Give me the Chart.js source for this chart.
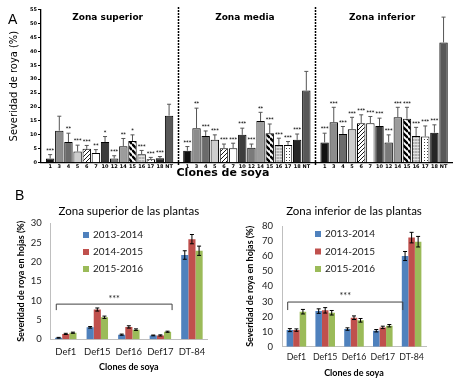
<!DOCTYPE html>
<html><head><meta charset="utf-8">
<script src="https://cdn.jsdelivr.net/npm/chart.js@4/dist/chart.umd.min.js"></script>
<style>
html,body{margin:0;padding:0;background:#fff;}
#wrap{position:relative;width:458px;height:380px;overflow:hidden;background:#fff;}
canvas{position:absolute;}
.lbl{position:absolute;font-family:"Liberation Sans",Arial,sans-serif;font-size:14px;line-height:14px;color:#000;}
</style></head><body>
<div id="wrap">
<canvas id="cA" width="458" height="185" style="left:0;top:0"></canvas>
<canvas id="cB1" width="228" height="180" style="left:0;top:200px"></canvas>
<canvas id="cB2" width="230" height="180" style="left:228px;top:200px"></canvas>
<div class="lbl" style="left:8px;top:12px">A</div>
<div class="lbl" style="left:15px;top:188px">B</div>
</div>
<script>
// ---------- Panel A data ----------
const clones = ['1','3','4','5','6','7','10','12','14','15','16','17','18','NT'];
const zones = ['Zona superior','Zona media','Zona inferior'];
const yTicksA = [0,5,10,15,20,25,30,35,40,45,50,55];
const zonaSuperior    = [1.5, 11.5, 7.4, 4.0, 5.0, 3.5, 7.4, 1.5, 5.9, 7.8, 3.0, 1.2, 1.6, 16.9];
const zonaSuperiorErr = [1.4, 5.2, 3.2, 2.3, 1.2, 1.2, 2.0, 1.0, 2.8, 2.2, 1.4, 0.7, 0.6, 4.1];
const zonaSuperiorSig = ['***','','**','***','***','**','*','***','**','*','***','***','***',''];
const zonaMedia       = [4.3, 12.4, 9.6, 8.2, 5.2, 5.2, 10.0, 5.4, 15.0, 10.6, 6.4, 6.4, 8.2, 25.9];
const zonaMediaErr    = [1.5, 7.2, 1.8, 1.8, 1.5, 1.8, 2.4, 1.3, 3.1, 3.3, 2.4, 1.2, 2.1, 6.9];
const zonaMediaSig    = ['***','**','***','***','***','***','***','***','**','***','***','***','***',''];
const zonaInferior    = [7.3, 14.5, 10.3, 12.0, 14.2, 14.2, 13.2, 7.3, 16.3, 15.8, 9.6, 9.4, 10.8, 43.2];
const zonaInferiorErr = [3.3, 5.4, 2.7, 4.3, 3.0, 2.4, 2.8, 2.7, 3.6, 4.1, 3.1, 3.8, 2.8, 9.1];
const zonaInferiorSig = ['***','***','***','***','***','***','***','***','***','***','***','***','***',''];

// ---------- Panel B data ----------
const bClones = ['Def1','Def15','Def16','Def17','DT-84'];
const seasons = ['2013-2014','2014-2015','2015-2016'];
const superior1314 = [0.4, 3.1, 1.2, 1.0, 21.8];
const superior1415 = [1.4, 7.7, 3.2, 1.0, 25.9];
const superior1516 = [1.7, 5.7, 2.5, 1.95, 22.9];
const superior1314Err = [0.1, 0.2, 0.15, 0.1, 1.1];
const superior1415Err = [0.15, 0.4, 0.3, 0.15, 1.2];
const superior1516Err = [0.15, 0.3, 0.2, 0.15, 1.2];
const inferior1314 = [11.0, 23.6, 11.7, 10.6, 60.1];
const inferior1415 = [11.0, 24.1, 19.2, 12.8, 72.3];
const inferior1516 = [23.2, 22.5, 17.5, 13.9, 69.6];
const inferior1314Err = [1.0, 1.5, 0.8, 0.8, 3.0];
const inferior1415Err = [0.8, 1.8, 1.2, 0.8, 3.5];
const inferior1516Err = [1.5, 1.5, 1.2, 0.8, 3.5];
const yTicksB1 = [0,5,10,15,20,25,30];
const yTicksB2 = [0,10,20,30,40,50,60,70,80];

// ---------- styles ----------
const fontA = 'DejaVu Sans';
const fontB = 'Lato';
const seasonColors = ['#4f81bd','#c0504d','#9bbb59'];

function patternFill(size, draw){
  const c=document.createElement('canvas'); c.width=size; c.height=size;
  const g=c.getContext('2d'); draw(g,size);
  return g.createPattern(c,'repeat');
}
const hatchThin = patternFill(4,(g,s)=>{
  g.fillStyle='#fff'; g.fillRect(0,0,s,s);
  g.strokeStyle='#000'; g.lineWidth=0.9; g.beginPath();
  for(let k=0;k<3;k++){ g.moveTo(0,k*s); g.lineTo(s,k*s-s); }
  g.stroke();
});
const stripesBold = patternFill(6,(g,s)=>{
  g.fillStyle='#fff'; g.fillRect(0,0,s,s);
  g.strokeStyle='#000'; g.lineWidth=2.4; g.beginPath();
  for(let k=-1;k<2;k++){ g.moveTo(0,k*s); g.lineTo(s,k*s+s); }
  g.stroke();
});
const gridGray = patternFill(3,(g,s)=>{
  g.fillStyle='#b0b0b0'; g.fillRect(0,0,s,s);
  g.fillStyle='#e2e2e2'; g.fillRect(0,0,s,1);
  g.fillStyle='#c8c8c8'; g.fillRect(0,1,1,s-1);
});
const dotsWhite = patternFill(3,(g,s)=>{
  g.fillStyle='#fff'; g.fillRect(0,0,s,s);
  g.fillStyle='#444'; g.fillRect(1,1,1,1);
});
const cloneFill = {'1':'#111111','3':'#8c8c8c','4':'#6b6b6b','5':'#cdcdcd','6':hatchThin,'7':'#ffffff',
  '10':'#3c3c3c','12':'#7a7a7a','14':'#9c9c9c','15':stripesBold,'16':gridGray,'17':dotsWhite,'18':'#262626','NT':'#585858'};

// ---------- Panel A build ----------
const labelsA = [''].concat(clones,[''],clones,[''],clones,['']);
const valuesA = [null].concat(zonaSuperior,[null],zonaMedia,[null],zonaInferior,[null]);
const errA = [null].concat(zonaSuperiorErr,[null],zonaMediaErr,[null],zonaInferiorErr,[null]);
const sigA = [''].concat(zonaSuperiorSig,[''],zonaMediaSig,[''],zonaInferiorSig,['']);
const fillsA = labelsA.map(l=>cloneFill[l]||'rgba(0,0,0,0)');

const panelAPlugin = {
  id:'panelAExtras',
  afterDatasetsDraw(chart){
    const ctx=chart.ctx, xs=chart.scales.x, ys=chart.scales.y;
    const ds=chart.data.datasets[0], meta=chart.getDatasetMeta(0);
    ctx.save();
    meta.data.forEach((el,i)=>{
      const v=ds.data[i]; if(v==null) return;
      const top=ys.getPixelForValue(v+ds.errors[i]), base=ys.getPixelForValue(v);
      ctx.strokeStyle='#555'; ctx.lineWidth=1;
      ctx.beginPath(); ctx.moveTo(el.x,base); ctx.lineTo(el.x,top);
      ctx.moveTo(el.x-2,top); ctx.lineTo(el.x+2,top); ctx.stroke();
      if(ds.sig[i]){
        ctx.fillStyle='#000'; ctx.font='bold 5px '+fontA; ctx.textAlign='center'; ctx.textBaseline='bottom';
        ctx.fillText(ds.sig[i], el.x, top-1.5);
      }
    });
    const n=clones.length;
    ctx.strokeStyle='#000'; ctx.lineWidth=1.5; ctx.setLineDash([2,1]);
    [n+1, 2*n+2].forEach(idx=>{
      const x=Math.round(xs.getPixelForValue(idx))+0.5;
      ctx.beginPath(); ctx.moveTo(x,7); ctx.lineTo(x,165); ctx.stroke();
    });
    ctx.setLineDash([]);
    ctx.fillStyle='#000'; ctx.font='bold 9px '+fontA; ctx.textAlign='center'; ctx.textBaseline='middle';
    zones.forEach((z,k)=>{
      const a=xs.getPixelForValue(1+k*(n+1)), b=xs.getPixelForValue(k*(n+1)+n);
      ctx.fillText(z,(a+b)/2-2,18);
    });
    ctx.font='bold 11px '+fontA;
    ctx.fillText('Clones de soya',223,173);
    ctx.restore();
  }
};

new Chart(document.getElementById('cA'),{
  type:'bar',
  data:{labels:labelsA,datasets:[{data:valuesA,errors:errA,sig:sigA,backgroundColor:fillsA,borderColor:'#000',borderWidth:1,barPercentage:0.92,categoryPercentage:1}]},
  options:{responsive:false,animation:false,devicePixelRatio:1,
    layout:{padding:{top:9.6,right:5.3,left:0,bottom:0}},
    plugins:{legend:{display:false},tooltip:{enabled:false}},
    scales:{
      x:{offset:false,grid:{display:false,drawTicks:false},border:{color:'#000',width:1.3},
         ticks:{autoSkip:false,maxRotation:0,minRotation:0,padding:1.5,font:{family:fontA,size:5,weight:'bold'},color:'#000'},
         afterFit:s=>{s.height=22.3;}},
      y:{min:yTicksA[0],max:yTicksA[yTicksA.length-1],
         ticks:{stepSize:yTicksA[1]-yTicksA[0],padding:1,font:{family:fontA,size:5,weight:'bold'},color:'#000'},
         grid:{drawOnChartArea:false,drawTicks:true,tickLength:3,color:'#000'},
         border:{color:'#000',width:1.3},
         title:{display:true,text:'Severidad de roya (%)',font:{family:'Liberation Sans Narrow, DejaVu Sans Condensed, sans-serif',size:11},color:'#000',padding:{top:7.4,bottom:0}},
         afterFit:s=>{s.width=41;}}
    }
  },
  plugins:[panelAPlugin]
});

// ---------- Panel B build ----------
function bPlugin(cfg){
  return {
    id:'bExtras',
    afterDatasetsDraw(chart){
      const ctx=chart.ctx, xs=chart.scales.x, ys=chart.scales.y;
      ctx.save();
      chart.data.datasets.forEach((ds,di)=>{
        const meta=chart.getDatasetMeta(di);
        meta.data.forEach((el,i)=>{
          const v=ds.data[i], e=ds.errors[i];
          const t=ys.getPixelForValue(v+e), b=ys.getPixelForValue(v-e);
          ctx.strokeStyle='#000'; ctx.lineWidth=1;
          ctx.beginPath(); ctx.moveTo(el.x,t); ctx.lineTo(el.x,b);
          ctx.moveTo(el.x-2,t); ctx.lineTo(el.x+2,t);
          ctx.moveTo(el.x-2,b); ctx.lineTo(el.x+2,b); ctx.stroke();
        });
      });
      ctx.font='10px '+fontB; ctx.textAlign='left'; ctx.textBaseline='middle';
      chart.data.datasets.forEach((ds,di)=>{
        const y=cfg.legend.y+di*cfg.legend.step;
        ctx.fillStyle=ds.backgroundColor; ctx.fillRect(cfg.legend.x,y-3,6,6);
        ctx.fillStyle='#222'; ctx.fillText(ds.label,cfg.legend.x+10,y);
      });
      const br=cfg.bracket;
      const x0=xs.getPixelForValue(br.from)-br.left, x1=xs.getPixelForValue(br.to)+br.right;
      const yb=ys.getPixelForValue(br.value);
      ctx.strokeStyle='#404040'; ctx.lineWidth=1;
      ctx.beginPath(); ctx.moveTo(x0,yb+br.drop); ctx.lineTo(x0,yb); ctx.lineTo(x1,yb); ctx.lineTo(x1,yb+br.drop); ctx.stroke();
      ctx.fillStyle='#222'; ctx.font='9px '+fontB; ctx.textAlign='center'; ctx.textBaseline='bottom';
      ctx.fillText(br.text,(x0+x1)/2,yb-1);
      ctx.restore();
    }
  };
}

function barB(id,cfg){
  return new Chart(document.getElementById(id),{
    type:'bar',
    data:{labels:bClones,datasets:seasons.map((s,i)=>({label:s,data:cfg.values[i],errors:cfg.errors[i],backgroundColor:seasonColors[i],borderWidth:0,categoryPercentage:0.68,barPercentage:1}))},
    options:{responsive:false,animation:false,devicePixelRatio:1,
      layout:{padding:{left:0,right:cfg.padRight,top:0,bottom:0}},
      plugins:{legend:{display:false},tooltip:{enabled:false},
        title:{display:true,text:cfg.title,fullSize:false,font:{family:fontB,size:11.5,weight:'normal'},color:'#000',padding:{top:4.8,bottom:cfg.titleBottom}}},
      scales:{
        x:{grid:{display:false,drawTicks:false},border:{color:'#bfbfbf'},
           ticks:{autoSkip:false,maxRotation:0,minRotation:0,padding:cfg.xPad,font:{family:fontB,size:cfg.xFont},color:'#222'},
           title:{display:true,text:'Clones de soya',font:{family:fontB,size:9,weight:'bold'},color:'#000',padding:{top:0,bottom:cfg.xTitlePad}},
           afterFit:s=>{s.height=cfg.xHeight;}},
        y:{min:cfg.ticks[0],max:cfg.ticks[cfg.ticks.length-1],
           ticks:{stepSize:cfg.ticks[1]-cfg.ticks[0],padding:cfg.yPad,font:{family:fontB,size:9.5},color:'#222'},
           grid:{display:false,drawTicks:false},border:{color:'#bfbfbf'},
           title:{display:true,text:'Severidad de roya en hojas (%)',font:{family:fontB,size:9,weight:'bold'},color:'#000',padding:{top:cfg.yTitlePad,bottom:0}},
           afterFit:s=>{s.width=cfg.yWidth;}}
      }
    },
    plugins:[bPlugin(cfg)]
  });
}

barB('cB1',{title:'Zona superior de las plantas',
  values:[superior1314,superior1415,superior1516],errors:[superior1314Err,superior1415Err,superior1516Err],
  ticks:yTicksB1,padRight:20.3,titleBottom:4.7,xPad:6.7,xFont:9.5,xHeight:40.7,xTitlePad:7.6,yPad:8.3,yWidth:50,yTitlePad:15.3,
  legend:{x:83,y:35,step:17},bracket:{from:0,to:3,value:9.1,left:9.5,right:11.7,drop:6,text:'***'}});
barB('cB2',{title:'Zona inferior de las plantas',
  values:[inferior1314,inferior1415,inferior1516],errors:[inferior1314Err,inferior1415Err,inferior1516Err],
  ticks:yTicksB2,padRight:32,titleBottom:7.4,xPad:5.6,xFont:8.8,xHeight:33.3,xTitlePad:1.6,yPad:9,yWidth:54,yTitlePad:16.3,
  legend:{x:87,y:34,step:17.5},bracket:{from:0,to:3,value:29.6,left:8.7,right:20,drop:8,text:'***'}});
</script>
</body></html>
